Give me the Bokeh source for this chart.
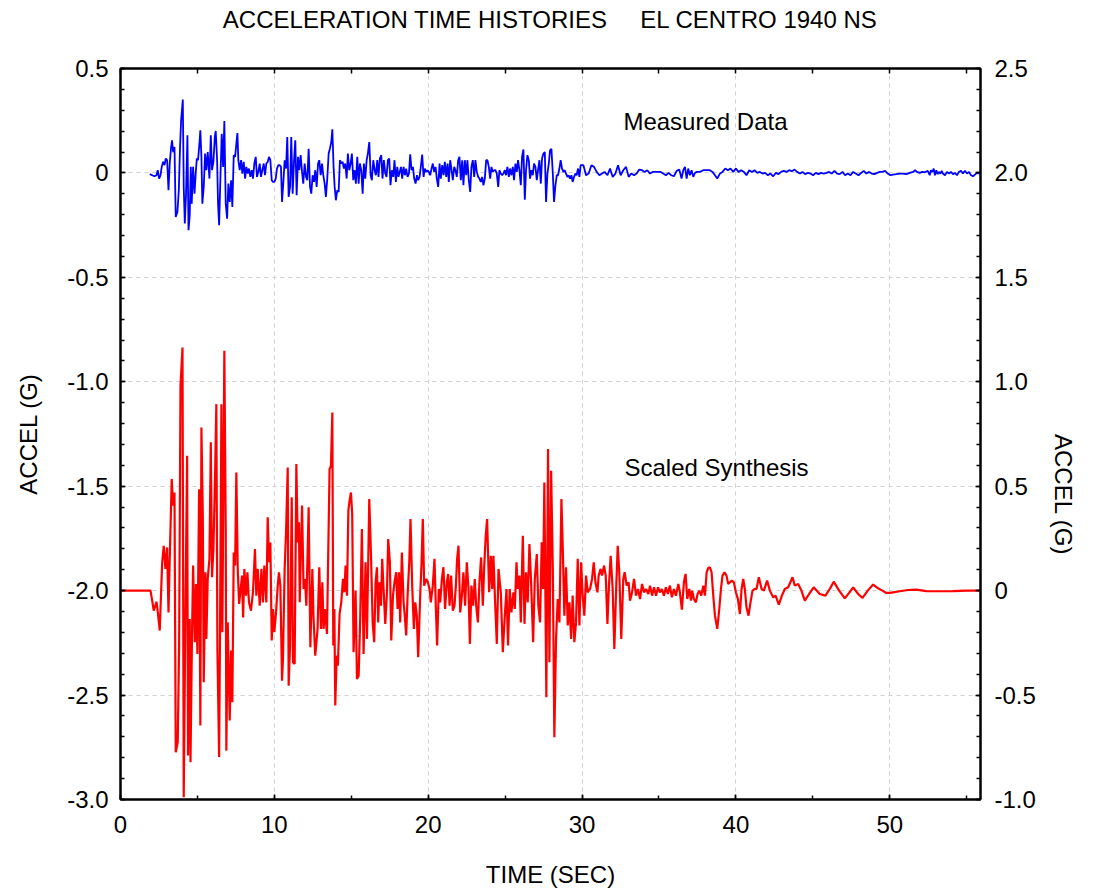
import math
from bokeh.plotting import figure
from bokeh.models import LinearAxis, Range1d, SingleIntervalTicker, FixedTicker, Label
from bokeh.embed import file_html
from bokeh.resources import INLINE

# ---------------- data ----------------
title_text = "ACCELERATION TIME HISTORIES\u00a0\u00a0\u00a0\u00a0 EL CENTRO 1940 NS"
x_label = "TIME (SEC)"
y_label = "ACCEL (G)"

left_ticks = [-3.0, -2.5, -2.0, -1.5, -1.0, -0.5, 0.0, 0.5]
left_tick_labels = ["-3.0", "-2.5", "-2.0", "-1.5", "-1.0", "-0.5", "0", "0.5"]
right_ticks = [-1.0, -0.5, 0.0, 0.5, 1.0, 1.5, 2.0, 2.5]
right_tick_labels = ["-1.0", "-0.5", "0", "0.5", "1.0", "1.5", "2.0", "2.5"]
top_tick_marks = [0, 5, 10, 15, 20, 25, 30, 35, 40, 45, 50, 55]

# Measured Data (blue, left axis)
blue_t_a = [1.90, 2.06, 2.21, 2.34, 2.42, 2.51, 2.60, 2.68, 2.77, 2.86,
            2.94, 3.03, 3.12, 3.20, 3.29, 3.35, 3.42, 3.51, 3.59, 3.70,
            3.79, 3.87, 3.94, 4.05, 4.11, 4.18, 4.26, 4.35, 4.42, 4.50,
            4.57, 4.63, 4.72, 4.81, 4.89, 4.96, 5.04, 5.13, 5.19, 5.26,
            5.32, 5.41, 5.50, 5.58, 5.67, 5.78, 5.87, 5.95, 6.04, 6.13,
            6.19, 6.28, 6.34, 6.41, 6.49, 6.58, 6.67, 6.75, 6.84, 6.93,
            7.01, 7.10, 7.19, 7.27, 7.36, 7.45, 7.53, 7.60, 7.66, 7.75,
            7.84, 7.92, 8.01, 8.10, 8.18, 8.27, 8.35, 8.44, 8.53, 8.61,
            8.70, 8.79, 8.87, 8.96, 9.05, 9.13, 9.22, 9.31, 9.39, 9.48,
            9.57, 9.65, 9.74, 9.83, 9.91, 10.00, 10.09, 10.17, 10.26, 10.35]
blue_v_a = [-0.006, -0.011, -0.016, -0.011, 0.013, -0.027, -0.011, 0.029, 0.053, 0.037,
            0.069, 0.061, -0.083, 0.045, 0.124, 0.156, 0.100, 0.124, -0.211, -0.187,
            -0.083, 0.124, 0.252, 0.351, -0.067, -0.242, -0.099, 0.180, -0.274, -0.203,
            0.029, -0.147, 0.029, -0.099, -0.003, 0.069, 0.061, 0.140, 0.204, 0.077,
            -0.147, -0.067, 0.093, 0.013, 0.100, -0.027, 0.180, 0.013, 0.053, 0.172,
            0.201, 0.061, -0.147, -0.250, -0.035, 0.188, 0.029, 0.249, -0.147, -0.219,
            -0.051, -0.139, -0.035, -0.163, 0.085, 0.077, 0.140, 0.191, 0.061, 0.013,
            0.061, -0.003, 0.053, -0.027, 0.029, -0.003, 0.021, -0.019, 0.013, -0.027,
            0.045, 0.077, -0.019, 0.005, 0.045, -0.019, 0.013, 0.045, -0.011, 0.045,
            0.053, 0.077, 0.061, -0.035, -0.043, -0.043, -0.027, 0.021, 0.037, 0.037]

blue_t_b = [10.43, 10.50, 10.58, 10.67, 10.76, 10.84, 10.93, 11.02, 11.10, 11.19,
            11.28, 11.36, 11.45, 11.54, 11.62, 11.71, 11.80, 11.88, 11.97, 12.06,
            12.14, 12.23, 12.32, 12.40, 12.49, 12.58, 12.66, 12.75, 12.84, 12.92,
            13.01, 13.10, 13.18, 13.27, 13.35, 13.44, 13.53, 13.61, 13.70, 13.77,
            13.85, 13.92, 14.00, 14.09, 14.18, 14.26, 14.35, 14.44, 14.52, 14.61,
            14.70, 14.78, 14.87, 14.96, 15.04, 15.13, 15.22, 15.30, 15.39, 15.48,
            15.56, 15.65, 15.74, 15.82, 15.91, 16.00, 16.08, 16.17, 16.26, 16.34,
            16.43, 16.52, 16.60, 16.69, 16.77, 16.86, 16.95, 17.03, 17.12, 17.21,
            17.29, 17.38, 17.47, 17.55, 17.64, 17.73, 17.81, 17.90, 17.99, 18.07]
blue_v_b = [0.029, -0.139, -0.051, 0.061, 0.021, 0.172, -0.115, -0.067, 0.172, -0.099,
            0.061, 0.156, -0.107, 0.077, 0.013, 0.085, 0.005, -0.051, 0.045, -0.019,
            -0.035, 0.116, -0.067, -0.099, -0.011, -0.043, 0.013, -0.067, 0.045, 0.061,
            -0.011, 0.045, -0.011, -0.051, -0.115, -0.027, 0.093, 0.116, 0.148, 0.209,
            0.029, -0.067, -0.131, -0.083, -0.091, 0.061, 0.045, 0.053, 0.021, 0.045,
            -0.027, 0.093, 0.013, 0.045, 0.093, -0.035, 0.013, -0.051, 0.077, -0.051,
            0.045, 0.013, -0.099, 0.045, -0.027, 0.061, 0.093, 0.148, -0.011, -0.035,
            0.061, 0.013, -0.011, 0.061, -0.019, 0.069, 0.085, -0.027, 0.061, -0.003,
            -0.019, 0.061, 0.069, -0.059, 0.013, -0.019, 0.061, -0.043, 0.029, -0.019]

blue_t_c = [18.23, 18.31, 18.40, 18.49, 18.57, 18.66, 18.75, 18.83, 18.92, 19.01,
            19.09, 19.18, 19.27, 19.35, 19.44, 19.52, 19.61, 19.70, 19.78, 19.87,
            19.96, 20.04, 20.13, 20.22, 20.30, 20.39, 20.48, 20.56, 20.65, 20.74,
            20.82, 20.91, 21.00, 21.08, 21.17, 21.26, 21.34, 21.43, 21.52, 21.60,
            21.69, 21.77, 21.86, 21.95, 22.03, 22.12, 22.21, 22.29, 22.38, 22.47,
            22.55, 22.64, 22.73, 22.81, 22.90, 22.99, 23.07, 23.16, 23.25, 23.33,
            23.42, 23.51, 23.59, 23.68, 23.77, 23.85, 23.94, 24.03, 24.11, 24.20]
blue_v_c = [0.029, -0.027, 0.029, -0.011, 0.021, -0.019, -0.003, 0.089, 0.013, 0.029,
            -0.027, -0.051, -0.011, -0.035, -0.019, 0.029, 0.088, -0.019, 0.021, 0.005,
            0.013, 0.005, -0.011, 0.021, 0.045, 0.005, 0.029, -0.027, -0.067, 0.045,
            -0.027, 0.037, -0.011, 0.053, -0.019, 0.045, -0.043, 0.061, 0.013, -0.035,
            0.029, 0.013, -0.019, 0.061, 0.077, -0.035, 0.061, -0.059, 0.061, -0.011,
            0.061, -0.035, -0.091, 0.029, 0.061, -0.019, 0.061, 0.005, -0.019, -0.027,
            -0.043, -0.019, -0.059, -0.027, 0.061, 0.061, 0.029, -0.027, 0.029, 0.005]

blue_t_d = [24.29, 24.37, 24.46, 24.55, 24.63, 24.72, 24.81, 24.89, 24.98, 25.06,
            25.15, 25.24, 25.32, 25.41, 25.50, 25.58, 25.67, 25.76, 25.84, 25.93,
            26.02, 26.10, 26.19, 26.28, 26.36, 26.45, 26.54, 26.62, 26.71, 26.80,
            26.88, 26.97, 27.06, 27.14, 27.23, 27.32, 27.40, 27.49, 27.58, 27.66,
            27.75, 27.84, 27.92, 28.01, 28.10, 28.18, 28.27, 28.36, 28.44, 28.53,
            28.61, 28.70, 28.79, 28.87, 28.96, 29.05, 29.13, 29.22, 29.31, 29.39,
            29.48, 29.57, 29.65, 29.74, 29.83, 29.91]
blue_v_d = [0.013, 0.013, -0.003, -0.067, 0.013, -0.003, -0.011, -0.003, 0.013, -0.011,
            0.029, -0.019, 0.021, -0.011, 0.029, -0.035, 0.045, 0.005, 0.061, 0.013,
            -0.059, 0.077, 0.112, -0.128, 0.013, 0.085, 0.061, -0.027, 0.013, -0.011,
            0.045, 0.029, -0.035, 0.013, 0.061, -0.051, 0.069, 0.093, 0.100, -0.139,
            -0.003, 0.045, 0.108, 0.116, -0.003, -0.139, -0.059, -0.011, -0.011, 0.021,
            0.061, 0.021, 0.005, 0.013, -0.003, -0.019, -0.011, -0.027, -0.011, -0.043,
            -0.019, -0.003, -0.011, 0.021, -0.019, 0.037]

blue_t_e = [30.09, 30.26, 30.43, 30.61, 30.78, 30.95, 31.13, 31.30, 31.47, 31.65,
            31.82, 31.99, 32.17, 32.34, 32.51, 32.68, 32.86, 33.03, 33.20, 33.38,
            33.55, 33.72, 33.90, 34.07, 34.24, 34.42, 34.59, 34.76, 34.94, 35.11,
            35.28, 35.45, 35.63, 35.80, 35.97, 36.15, 36.32, 36.47, 36.58, 36.69,
            36.80, 36.90, 37.01, 37.12, 37.23, 37.34, 37.45, 37.66, 37.88, 38.10,
            38.31, 38.48, 38.64, 38.79, 38.96, 39.13, 39.31, 39.48, 39.65, 39.83,
            40.00, 40.17, 40.35, 40.52, 40.69, 40.87, 41.04, 41.21, 41.39, 41.56,
            41.73, 41.90, 42.08, 42.25, 42.42, 42.60, 42.77, 42.94, 43.12, 43.29,
            43.46, 43.64, 43.81, 43.98, 44.16, 44.33, 44.50, 44.68, 44.85, 45.02]
blue_v_e = [0.037, -0.011, -0.003, 0.037, 0.029, 0.005, -0.011, -0.003, 0.005, -0.011,
            0.021, -0.019, -0.003, 0.037, -0.011, 0.013, 0.029, -0.019, -0.003, -0.011,
            -0.003, 0.016, 0.013, 0.005, 0.013, -0.003, 0.005, 0.005, 0.005, 0.005,
            -0.003, -0.011, 0.000, -0.011, -0.016, 0.010, 0.016, -0.027, 0.013, 0.029,
            -0.027, 0.021, -0.011, 0.013, -0.019, 0.000, 0.005, 0.005, 0.013, 0.013,
            0.013, 0.005, -0.011, -0.027, -0.003, 0.005, 0.021, 0.013, 0.021, 0.005,
            0.021, 0.005, 0.013, 0.005, -0.011, 0.013, 0.005, 0.013, 0.000, 0.005,
            -0.003, 0.000, -0.011, -0.003, -0.016, 0.000, -0.006, 0.005, 0.010, 0.005,
            0.013, 0.008, 0.016, 0.005, -0.003, 0.005, -0.006, 0.000, -0.003, -0.011]

blue_t_f = [45.19, 45.37, 45.54, 45.71, 45.89, 46.06, 46.23, 46.41, 46.58, 46.75,
            46.93, 47.10, 47.27, 47.45, 47.62, 47.79, 47.97, 48.14, 48.31, 48.48,
            48.66, 48.83, 49.00, 49.18, 49.35, 49.52, 49.70, 49.87, 50.04, 50.22,
            50.43, 50.65, 50.87, 51.08, 51.30, 51.52, 51.65, 51.77, 51.95, 52.12,
            52.29, 52.47, 52.60, 52.68, 52.77, 52.86, 52.94, 53.03, 53.12, 53.20,
            53.29, 53.38, 53.46, 53.59, 53.72, 53.85, 53.98, 54.11, 54.24, 54.37,
            54.50, 54.63, 54.76, 54.89, 55.02, 55.15, 55.28, 55.41, 55.54, 55.67,
            55.84]
blue_v_f = [0.000, -0.006, 0.000, -0.003, 0.000, 0.005, -0.003, 0.010, -0.003, -0.006,
            0.005, -0.011, -0.003, -0.011, 0.005, -0.003, -0.011, 0.000, 0.010, -0.003,
            0.005, -0.003, -0.006, 0.000, 0.005, 0.005, 0.010, -0.003, -0.011, -0.008,
            -0.006, -0.003, -0.003, -0.006, 0.000, 0.005, 0.013, 0.005, 0.000, 0.005,
            0.003, 0.010, -0.011, 0.013, 0.005, 0.021, -0.011, 0.013, -0.006, 0.005,
            -0.003, 0.010, -0.003, -0.011, 0.005, -0.003, 0.005, -0.006, 0.000, -0.011,
            0.005, 0.010, -0.003, 0.010, -0.003, 0.005, -0.011, -0.016, -0.008, 0.000,
            -0.003]

# Scaled Synthesis (red, right axis)
red_t_a = [0.00, 1.95, 2.06, 2.16, 2.34, 2.42, 2.55, 2.71, 2.81, 2.92,
           3.03, 3.12, 3.20, 3.33, 3.42, 3.51, 3.59, 3.72, 3.81, 3.90,
           4.03, 4.11, 4.22, 4.33, 4.39, 4.50, 4.55, 4.65, 4.72, 4.83,
           4.91, 5.00, 5.11, 5.19, 5.26, 5.35, 5.41, 5.52, 5.58, 5.67,
           5.78, 5.87, 5.95, 6.04, 6.15, 6.23, 6.30, 6.41, 6.47, 6.56,
           6.62, 6.75, 6.84, 6.88, 6.97, 7.10, 7.19, 7.27, 7.36, 7.45,
           7.53, 7.62, 7.71, 7.79, 7.90, 7.97, 8.05, 8.16, 8.25, 8.35,
           8.48, 8.61, 8.74, 8.83, 8.92, 9.05, 9.16, 9.26, 9.35, 9.48,
           9.57, 9.65, 9.74, 9.83, 9.91, 10.00, 10.11, 10.22, 10.30, 10.39,
           10.50, 10.56, 10.67, 10.76, 10.87, 10.93, 11.02, 11.13, 11.21, 11.32]
red_v_a = [0.000, 0.000, -0.048, -0.096, -0.053, -0.100, -0.191, 0.136, 0.215, 0.104,
           0.207, -0.104, 0.152, 0.534, 0.407, 0.470, -0.774, -0.726, -0.263, 0.981,
           1.164, -0.989, -0.104, 0.646, -0.789, -0.136, -0.821, -0.199, 0.120, -0.247,
           0.032, -0.303, 0.486, -0.646, 0.781, 0.359, -0.439, 0.088, -0.231, 0.056,
           0.152, 0.710, 0.064, 0.199, 0.566, 0.893, -0.287, -0.797, -0.183, 0.893,
           -0.199, 1.148, 0.295, -0.766, -0.152, -0.622, -0.287, -0.534, 0.183, 0.120,
           0.566, 0.104, -0.064, -0.008, 0.072, -0.128, 0.104, -0.024, 0.088, -0.056,
           -0.096, -0.008, 0.199, -0.024, 0.104, -0.072, 0.104, -0.056, 0.120, -0.056,
           0.351, 0.136, 0.231, -0.239, -0.088, -0.199, -0.104, 0.024, 0.088, 0.024,
           -0.431, -0.327, 0.104, 0.279, 0.590, -0.455, -0.263, 0.447, -0.343, -0.351]

red_t_b = [11.43, 11.52, 11.60, 11.65, 11.80, 11.90, 11.99, 12.08, 12.23, 12.34,
           12.47, 12.55, 12.66, 12.81, 12.92, 13.03, 13.12, 13.20, 13.29, 13.42,
           13.59, 13.68, 13.77, 13.83, 13.90, 13.96, 14.05, 14.13, 14.24, 14.35,
           14.46, 14.55, 14.63, 14.72, 14.81, 14.89, 14.98, 15.06, 15.15, 15.28,
           15.37, 15.48, 15.58, 15.69, 15.80, 15.93, 16.02, 16.17, 16.28, 16.39,
           16.49, 16.58, 16.67, 16.75, 16.84, 16.93, 17.01, 17.10, 17.21, 17.32,
           17.40, 17.51, 17.60, 17.71, 17.81, 17.92, 18.01, 18.10, 18.18, 18.29,
           18.40, 18.48, 18.57, 18.66, 18.77, 18.85, 18.96, 19.07, 19.16, 19.26,
           19.35, 19.48, 19.57, 19.65, 19.74, 19.87, 19.98, 20.09, 20.17, 20.30,
           20.41, 20.50, 20.58, 20.69, 20.78, 20.89, 20.99, 21.10, 21.21, 21.30]
red_v_b = [0.606, 0.231, 0.327, -0.056, 0.407, 0.008, 0.056, -0.072, 0.399, -0.271,
           0.104, -0.136, -0.311, -0.183, 0.112, -0.183, 0.040, -0.183, -0.088, -0.207,
           0.582, 0.598, 0.853, -0.263, -0.088, -0.550, -0.311, -0.359, -0.112, -0.056,
           0.056, -0.008, 0.120, -0.024, 0.383, 0.431, 0.470, 0.367, -0.295, 0.000,
           -0.423, -0.407, -0.136, 0.295, -0.303, 0.136, -0.231, 0.439, 0.175, -0.152,
           -0.247, 0.040, 0.112, -0.152, 0.040, -0.072, 0.152, 0.008, -0.159, -0.008,
           0.247, 0.136, -0.239, -0.024, 0.040, 0.088, -0.088, 0.088, -0.152, 0.183,
           -0.056, -0.120, -0.215, -0.024, 0.136, 0.343, 0.024, -0.183, -0.056, -0.120,
           -0.319, -0.024, 0.136, 0.343, 0.024, 0.056, 0.040, 0.008, -0.056, 0.024,
           0.152, -0.088, -0.263, 0.008, -0.056, 0.056, 0.112, -0.088, 0.040, 0.080]

red_t_c = [21.39, 21.49, 21.60, 21.71, 21.80, 21.88, 21.97, 22.08, 22.19, 22.29,
           22.40, 22.51, 22.62, 22.71, 22.81, 22.92, 23.03, 23.12, 23.23, 23.33,
           23.44, 23.55, 23.64, 23.74, 23.83, 23.96, 24.07, 24.16, 24.24, 24.35,
           24.46, 24.57, 24.72, 24.85, 24.98, 25.09, 25.19, 25.30, 25.41, 25.54,
           25.63, 25.74, 25.82, 25.93, 26.02, 26.15, 26.26, 26.36, 26.47, 26.58,
           26.69, 26.82, 26.93, 27.06, 27.16, 27.27, 27.38, 27.47, 27.55, 27.68,
           27.79, 27.88, 27.99, 28.10, 28.20, 28.31, 28.42, 28.53, 28.66, 28.77,
           28.85, 28.96, 29.07, 29.18, 29.29, 29.39, 29.50, 29.61, 29.72, 29.83,
           29.94, 30.04, 30.15, 30.26, 30.37, 30.52, 30.65, 30.76, 30.87, 31.00,
           31.08, 31.21, 31.30, 31.43, 31.54, 31.65, 31.75, 31.86, 31.99, 32.10]
red_v_c = [-0.072, 0.072, -0.096, -0.072, 0.024, 0.152, 0.215, -0.104, -0.024, 0.088,
           -0.072, 0.136, 0.008, -0.255, 0.024, -0.072, 0.056, -0.072, -0.152, 0.040,
           0.159, -0.072, 0.112, 0.263, 0.343, -0.008, 0.167, 0.008, 0.167, -0.056,
           -0.255, 0.104, -0.008, -0.295, -0.120, 0.008, -0.263, 0.008, -0.104, -0.008,
           -0.088, 0.136, 0.008, 0.072, -0.152, 0.263, -0.159, 0.088, -0.056, 0.223,
           0.040, -0.247, 0.056, 0.175, -0.072, -0.152, 0.231, 0.008, 0.518, -0.510,
           0.678, -0.343, 0.574, 0.104, -0.702, -0.231, -0.040, -0.152, 0.439, 0.136,
           -0.120, 0.112, -0.167, -0.056, -0.231, -0.024, -0.247, -0.152, 0.152, -0.167,
           0.136, -0.024, -0.120, 0.072, -0.008, 0.008, 0.056, 0.136, 0.040, -0.008,
           0.072, 0.104, 0.072, 0.120, 0.072, -0.159, 0.024, 0.167, 0.008, -0.279]

red_t_d = [32.21, 32.32, 32.42, 32.55, 32.68, 32.77, 32.90, 33.03, 33.12, 33.25,
           33.38, 33.51, 33.64, 33.77, 33.90, 34.03, 34.16, 34.31, 34.42, 34.55,
           34.68, 34.81, 34.94, 35.06, 35.19, 35.32, 35.45, 35.58, 35.71, 35.84,
           35.97, 36.10, 36.26, 36.36, 36.49, 36.62, 36.73, 36.84, 36.97, 37.08,
           37.16, 37.27, 37.40, 37.51, 37.62, 37.75, 37.88, 37.99, 38.10, 38.20,
           38.31, 38.42, 38.53, 38.64, 38.79, 38.92, 39.03, 39.13, 39.26, 39.39,
           39.50, 39.61, 39.74, 39.87, 40.00, 40.13, 40.26, 40.37, 40.48, 40.58,
           40.69, 40.82, 40.95, 41.08, 41.21, 41.34, 41.49, 41.67, 41.82, 42.03,
           42.21, 42.42, 42.58, 42.79, 42.99, 43.18, 43.40, 43.68, 43.83, 44.05,
           44.26, 44.48, 44.76, 45.06, 45.45, 45.82, 46.10, 46.36, 46.71, 47.08,
           47.36, 47.62, 47.95, 48.23, 48.57, 48.92, 49.24, 49.52, 49.78, 50.00,
           50.22, 50.65, 51.19, 51.73, 52.38, 53.25, 54.11, 54.98, 55.84]
red_v_d = [-0.008, 0.215, 0.088, -0.231, 0.056, 0.088, 0.024, 0.040, -0.048, -0.008,
           0.056, -0.024, 0.008, -0.040, 0.032, -0.008, 0.008, -0.016, 0.024, -0.024,
           0.016, -0.024, 0.016, -0.008, 0.008, -0.024, 0.016, -0.016, 0.024, -0.032,
           0.008, -0.024, 0.032, -0.008, -0.091, 0.040, 0.080, -0.040, 0.008, -0.048,
           0.000, -0.040, -0.056, -0.016, 0.000, -0.024, 0.024, -0.024, 0.088, 0.108,
           0.112, 0.088, -0.024, -0.120, -0.183, -0.088, 0.008, 0.072, 0.088, 0.072,
           0.032, 0.040, 0.048, 0.040, -0.008, -0.040, -0.112, 0.008, 0.056, 0.008,
           -0.080, -0.120, -0.056, 0.000, 0.008, 0.008, 0.064, 0.008, 0.000, 0.048,
           0.000, -0.032, -0.024, -0.067, -0.024, 0.008, 0.016, 0.064, 0.024, 0.032,
           0.000, -0.048, -0.016, 0.016, -0.016, -0.024, 0.008, 0.043, 0.000, -0.037,
           -0.011, 0.016, -0.016, -0.035, 0.000, 0.029, 0.011, 0.000, -0.011, -0.011,
           -0.008, -0.003, 0.003, 0.005, -0.002, -0.003, -0.002, 0.000, 0.000]

blue_t = blue_t_a + blue_t_b + blue_t_c + blue_t_d + blue_t_e + blue_t_f
blue_v = blue_v_a + blue_v_b + blue_v_c + blue_v_d + blue_v_e + blue_v_f
red_t = red_t_a + red_t_b + red_t_c + red_t_d
red_v = red_v_a + red_v_b + red_v_c + red_v_d

# ---------------- figure ----------------
FONT = "Liberation Sans"
FS = "24px"

p = figure(width=1094, height=890, output_backend="svg", toolbar_location=None,
           x_range=Range1d(0, 55.9), y_range=Range1d(-3.0, 0.5),
           min_border_left=120, min_border_right=114, min_border_top=68,
           min_border_bottom=90, x_axis_location=None, y_axis_location=None)
p.extra_y_ranges = {"right": Range1d(-1.0, 2.5)}

p.outline_line_color = "black"
p.outline_line_width = 2
p.background_fill_color = "white"
p.border_fill_color = "white"


def style_axis(ax):
    ax.axis_line_color = "black"
    ax.axis_line_width = 2
    ax.major_tick_in = 5
    ax.major_tick_out = 0
    ax.minor_tick_in = 4
    ax.minor_tick_out = 0
    ax.major_tick_line_color = "black"
    ax.minor_tick_line_color = "black"
    ax.major_tick_line_width = 1.5
    ax.minor_tick_line_width = 1.5
    ax.major_label_text_font = FONT
    ax.major_label_text_font_size = FS
    ax.major_label_text_color = "black"
    ax.axis_label_text_font = FONT
    ax.axis_label_text_font_size = FS
    ax.axis_label_text_font_style = "normal"
    ax.axis_label_text_color = "black"


xb = LinearAxis(ticker=SingleIntervalTicker(interval=10, num_minor_ticks=2), axis_label=x_label)
style_axis(xb)
xb.major_label_standoff = 16
xb.axis_label_standoff = 25
p.add_layout(xb, "below")

# top frame: ticks only, chart title carried as this axis' label
xt = LinearAxis(ticker=FixedTicker(ticks=[], minor_ticks=top_tick_marks), axis_label=title_text)
style_axis(xt)
xt.minor_tick_in = 5
xt.major_label_standoff = 0
xt.axis_label_standoff = 36
p.add_layout(xt, "above")

yl = LinearAxis(ticker=SingleIntervalTicker(interval=0.5, num_minor_ticks=5), axis_label=y_label)
style_axis(yl)
yl.major_label_overrides = dict(zip(left_ticks, left_tick_labels))
yl.major_label_standoff = 12
yl.axis_label_standoff = 22
p.add_layout(yl, "left")

yr = LinearAxis(ticker=SingleIntervalTicker(interval=0.5, num_minor_ticks=5), axis_label=y_label,
                y_range_name="right")
style_axis(yr)
yr.major_label_overrides = dict(zip(right_ticks, right_tick_labels))
yr.major_label_standoff = 14
yr.axis_label_standoff = 25
yr.axis_label_orientation = -math.pi / 2
p.add_layout(yr, "right")

p.xgrid.ticker = SingleIntervalTicker(interval=10)
p.ygrid.ticker = SingleIntervalTicker(interval=0.5)
for g in (p.xgrid, p.ygrid):
    g.grid_line_color = "#d0d0d0"
    g.grid_line_dash = "4 4"
    g.grid_line_width = 1

p.line(blue_t, blue_v, line_color="#0000ff", line_width=1.8)
p.line(red_t, red_v, line_color="#ff0000", line_width=2.2, y_range_name="right")

p.add_layout(Label(x=32.69, y=0.247, text="Measured Data", text_font=FONT,
                   text_font_size=FS, text_baseline="middle", text_color="black"))
p.add_layout(Label(x=32.76, y=-1.409, text="Scaled Synthesis", text_font=FONT,
                   text_font_size=FS, text_baseline="middle", text_color="black"))

open("out.html", "w").write(file_html(p, INLINE))
